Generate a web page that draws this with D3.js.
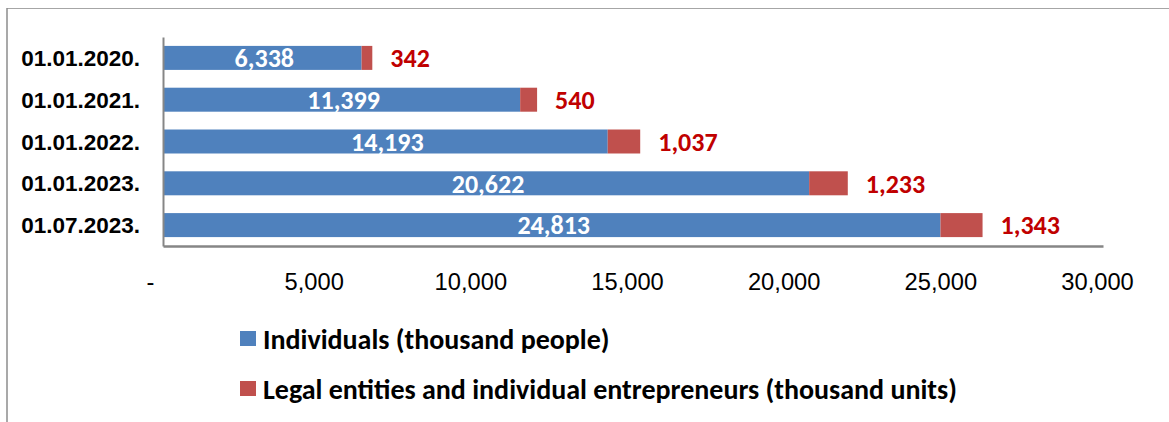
<!DOCTYPE html>
<html>
<head>
<meta charset="utf-8">
<script src="https://cdn.jsdelivr.net/npm/d3@7"></script>
<style>
  html, body { margin: 0; padding: 0; background: #fff; }
  svg { display: block; font-family: Carlito, Lato, "Open Sans", sans-serif; }
</style>
</head>
<body>
<svg id="chart" width="1169" height="422"></svg>
<script>
const categories = ["01.01.2020.", "01.01.2021.", "01.01.2022.", "01.01.2023.", "01.07.2023."];
const individuals = [6338, 11399, 14193, 20622, 24813];
const legalEntities = [342, 540, 1037, 1233, 1343];
const tickValues = [0, 5000, 10000, 15000, 20000, 25000, 30000];
const seriesNames = ["Individuals (thousand people)", "Legal entities and individual entrepreneurs (thousand units)"];

const blue = "#4F81BD", red = "#C0504D", labelRed = "#C00000";
const svg = d3.select("#chart");

// frame
svg.append("line").attr("x1", 7).attr("x2", 1169).attr("y1", 8.5).attr("y2", 8.5)
  .attr("stroke", "#a6a6a6").attr("stroke-width", 1);
svg.append("line").attr("x1", 7).attr("x2", 7).attr("y1", 8).attr("y2", 422)
  .attr("stroke", "#8c8c8c").attr("stroke-width", 1.5);

const x = d3.scaleLinear().domain([0, 30000]).range([163, 1103]);
const y = d3.scaleBand().domain(categories).range([37, 246]).paddingInner(0.426).paddingOuter(0.213);

const fmt = d3.format(",");

// bars
const g = svg.append("g");
g.selectAll("rect.ind").data(categories).join("rect")
  .attr("x", x(0))
  .attr("y", d => y(d))
  .attr("width", (d, i) => x(individuals[i]) - x(0))
  .attr("height", y.bandwidth())
  .attr("fill", blue);
g.selectAll("rect.leg").data(categories).join("rect")
  .attr("x", (d, i) => x(individuals[i]))
  .attr("y", d => y(d))
  .attr("width", (d, i) => x(individuals[i] + legalEntities[i]) - x(individuals[i]))
  .attr("height", y.bandwidth())
  .attr("fill", red);

// value labels
g.selectAll("text.ind").data(categories).join("text")
  .attr("x", (d, i) => (x(0) + x(individuals[i])) / 2 + 2)
  .attr("y", d => y(d) + y.bandwidth() / 2)
  .attr("dy", "0.36em")
  .attr("text-anchor", "middle")
  .attr("fill", "#fff")
  .attr("font-weight", "bold")
  .attr("font-size", 26)
  .text((d, i) => fmt(individuals[i]));
g.selectAll("text.leg").data(categories).join("text")
  .attr("x", (d, i) => x(individuals[i] + legalEntities[i]) + 18)
  .attr("y", d => y(d) + y.bandwidth() / 2)
  .attr("dy", "0.36em")
  .attr("fill", labelRed)
  .attr("font-weight", "bold")
  .attr("font-size", 26)
  .text((d, i) => fmt(legalEntities[i]));

// y axis
const yAxis = svg.append("g").attr("transform", `translate(${x(0)},0)`)
  .call(d3.axisLeft(y).tickSize(0).tickSizeOuter(0).tickPadding(23));
yAxis.select(".domain").attr("stroke", "#868686").attr("stroke-width", 2);
yAxis.selectAll("text").attr("font-size", 22.5).attr("font-weight", "bold")
  .attr("fill", "#000").attr("font-family", null).attr("dy", "0.36em");

// x axis
const xAxis = svg.append("g").attr("transform", `translate(0,${y.range()[1]})`)
  .call(d3.axisBottom(x).tickValues(tickValues).tickSize(0).tickSizeOuter(0)
    .tickFormat(d => d === 0 ? "-" : fmt(d)));
xAxis.select(".domain").attr("stroke", "#868686").attr("stroke-width", 2.5);
xAxis.selectAll("text").attr("font-size", 23.7).attr("fill", "#000")
  .attr("font-family", null)
  .attr("y", 35).attr("dy", "0.36em")
  .attr("dx", d => d === 0 ? -13 : -6);

// legend
const colors = [blue, red];
const leg = svg.append("g");
seriesNames.forEach((name, i) => {
  const cy = 338.5 + i * 50;
  leg.append("rect").attr("x", 240).attr("y", cy - 7.5).attr("width", 16).attr("height", 15).attr("fill", colors[i]);
  leg.append("text").attr("x", 263).attr("y", cy).attr("dy", "0.36em")
    .attr("font-size", 28).attr("font-weight", "bold").attr("fill", "#000").text(name);
});
</script>
</body>
</html>
